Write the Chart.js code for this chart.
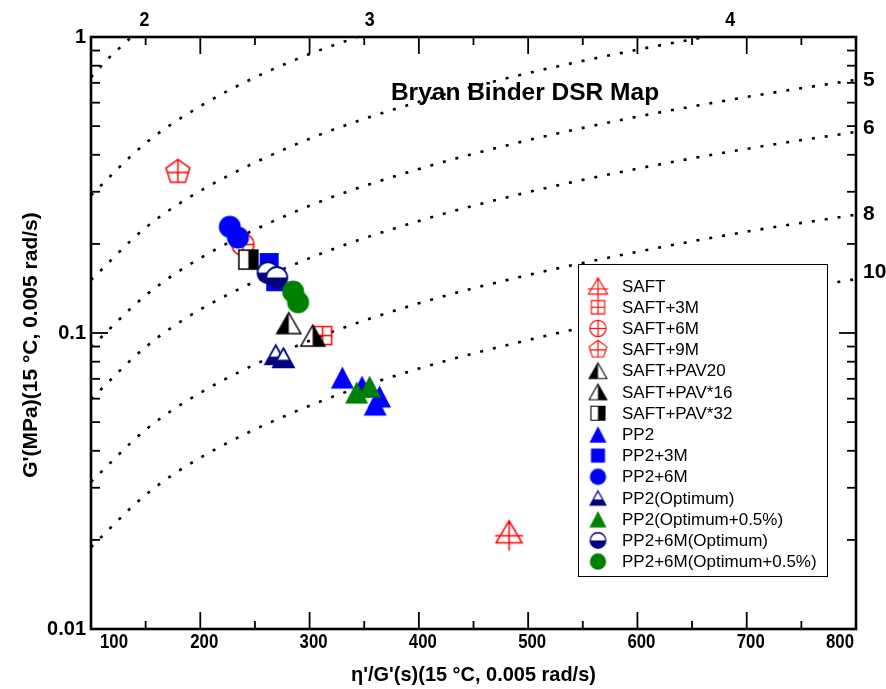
<!DOCTYPE html>
<html>
<head>
<meta charset="utf-8">
<script src="https://cdn.jsdelivr.net/npm/chart.js@4.4.1/dist/chart.umd.min.js"></script>
<style>
  html, body { margin: 0; padding: 0; background: #fff; }
  #wrap { width: 886px; height: 689px; }
</style>
</head>
<body>
<div id="wrap"><canvas id="chart" width="886" height="689"></canvas></div>
<script>
// ---- data ----
const seriesNames = ['SAFT', 'SAFT+3M', 'SAFT+6M', 'SAFT+9M', 'SAFT+PAV20', 'SAFT+PAV*16', 'SAFT+PAV*32',
    'PP2', 'PP2+3M', 'PP2+6M', 'PP2(Optimum)', 'PP2(Optimum+0.5%)', 'PP2+6M(Optimum)', 'PP2+6M(Optimum+0.5%)'];

const saftX = [482.5];            const saftY = [0.0213];
const saft3mX = [312];            const saft3mY = [0.098];
const saft6mX = [239];            const saft6mY = [0.199];
const saft9mX = [179.5];          const saft9mY = [0.350];
const pav20X = [281];             const pav20Y = [0.108];
const pav16X = [303];             const pav16Y = [0.098];
const pav32X = [244];             const pav32Y = [0.177];
const pp2X = [330, 348, 364, 360];     const pp2Y = [0.0707, 0.0659, 0.0610, 0.0573];
const pp23mX = [263, 269];        const pp23mY = [0.173, 0.149];
const pp26mX = [227, 234.5];      const pp26mY = [0.2285, 0.210];
const optX = [269, 276];          const optY = [0.0845, 0.0825];
const opt05X = [343, 355];        const opt05Y = [0.0629, 0.0659];
const pp26mOptX = [262, 270];     const pp26mOptY = [0.160, 0.154];
const pp26mOpt05X = [285, 289.5]; const pp26mOpt05Y = [0.138, 0.127];

// dotted ductility contours
const ductLabels = ['2', '3', '4', '5', '6', '8', '10'];
const d2X = [100, 115, 125, 137];                    const d2Y = [0.73, 0.84, 0.91, 1.0];
const d3X = [100, 150, 200, 250, 300, 344];          const d3Y = [0.292, 0.438, 0.584, 0.73, 0.876, 1.0];
const d4X = [100, 150, 200, 300, 400, 500, 600, 662]; const d4Y = [0.151, 0.227, 0.302, 0.453, 0.604, 0.755, 0.906, 1.0];
const curveX = [100, 150, 200, 300, 400, 500, 600, 700, 800];
const d5Y = [0.0896, 0.134, 0.179, 0.269, 0.358, 0.448, 0.538, 0.627, 0.717];
const d6Y = [0.0598, 0.0897, 0.120, 0.179, 0.239, 0.299, 0.359, 0.419, 0.478];
const d8Y = [0.0314, 0.0471, 0.0628, 0.0942, 0.126, 0.157, 0.188, 0.220, 0.251];
const d10Y = [0.0189, 0.0284, 0.0379, 0.0568, 0.0758, 0.0947, 0.114, 0.133, 0.152];

const topLabelX = [149, 355, 685];                // labels 2,3,4 along the top edge
const rightLabelY = [0.716, 0.493, 0.251, 0.160]; // labels 5,6,8,10 along the right edge

const xTicks = [100, 200, 300, 400, 500, 600, 700, 800];
const yTicks = [0.01, 0.1, 1];
const yTickLabels = ['0.01', '0.1', '1'];

const xTitle = "\u03b7'/G'(s)(15 \u00b0C, 0.005 rad/s)";
const yTitle = "G'(MPa)(15 \u00b0C, 0.005 rad/s)";
const chartTitle = 'Bryan Binder DSR Map';

// ---- markers ----
const FONT = '"Liberation Sans", Arial, sans-serif';
const RED = '#ff0000', BLUE = '#0000ff', NAVY = '#000080', GREEN = '#008000', BLACK = '#000000';

const tri = (g, w, h) => { g.beginPath(); g.moveTo(0, -h / 2); g.lineTo(w / 2, h / 2); g.lineTo(-w / 2, h / 2); g.closePath(); };
const sq = (g, s) => { g.beginPath(); g.rect(-s / 2, -s / 2, s, s); };
const circ = (g, d) => { g.beginPath(); g.arc(0, 0, d / 2, 0, Math.PI * 2); };
const pent = (g, r) => {
    g.beginPath();
    for (let i = 0; i < 5; i++) {
        const a = -Math.PI / 2 + i * 2 * Math.PI / 5;
        if (i === 0) g.moveTo(r * Math.cos(a), r * Math.sin(a));
        else g.lineTo(r * Math.cos(a), r * Math.sin(a));
    }
    g.closePath();
};
const line = (g, x1, y1, x2, y2) => { g.beginPath(); g.moveTo(x1, y1); g.lineTo(x2, y2); g.stroke(); };

const drawers = {
    saft(g) { g.strokeStyle = RED; tri(g, 26, 22); g.stroke(); line(g, 0, -11, 0, 19); line(g, -14, 4, 14, 4); },
    saft3m(g) { g.strokeStyle = RED; sq(g, 18); g.stroke(); line(g, -9, 0, 9, 0); line(g, 0, -9, 0, 9); },
    saft6m(g) { g.strokeStyle = RED; circ(g, 22); g.stroke(); line(g, -11, 0, 11, 0); line(g, 0, -11, 0, 11); },
    saft9m(g) {
        g.strokeStyle = RED; pent(g, 12.6); g.stroke();
        g.save(); pent(g, 12.6); g.clip(); line(g, 0, -13, 0, 13); line(g, -13, 0.5, 13, 0.5); g.restore();
    },
    pav20(g) { g.save(); tri(g, 24, 21); g.clip(); g.fillStyle = BLACK; g.fillRect(-13, -12, 13, 24); g.restore(); g.strokeStyle = BLACK; tri(g, 24, 21); g.stroke(); },
    pav16(g) { g.save(); tri(g, 24, 21); g.clip(); g.fillStyle = BLACK; g.fillRect(0, -12, 13, 24); g.restore(); g.strokeStyle = BLACK; tri(g, 24, 21); g.stroke(); },
    pav32(g) { g.fillStyle = '#fff'; sq(g, 19); g.fill(); g.fillStyle = BLACK; g.fillRect(0, -9.5, 9.5, 19); g.strokeStyle = BLACK; sq(g, 19); g.stroke(); },
    pp2(g) { g.fillStyle = BLUE; tri(g, 23, 22); g.fill(); },
    pp23m(g) { g.fillStyle = BLUE; sq(g, 19); g.fill(); },
    pp26m(g) { g.fillStyle = BLUE; circ(g, 22); g.fill(); },
    opt(g) {
        g.fillStyle = '#fff'; tri(g, 21, 19); g.fill();
        g.save(); tri(g, 21, 19); g.clip(); g.fillStyle = NAVY; g.fillRect(-12, 9.5 - 7.5, 24, 8); g.restore();
        g.strokeStyle = NAVY; g.lineWidth = 1.8; tri(g, 21, 19); g.stroke();
    },
    opt05(g) { g.fillStyle = GREEN; tri(g, 23, 22); g.fill(); },
    pp26mOpt(g) {
        g.fillStyle = '#fff'; circ(g, 21); g.fill();
        g.save(); circ(g, 21); g.clip(); g.fillStyle = NAVY; g.fillRect(-11, 0, 22, 11); g.restore();
        g.strokeStyle = NAVY; g.lineWidth = 1.8; circ(g, 21); g.stroke();
    },
    pp26mOpt05(g) { g.fillStyle = GREEN; circ(g, 22); g.fill(); }
};
const markerKinds = ['saft', 'saft3m', 'saft6m', 'saft9m', 'pav20', 'pav16', 'pav32',
    'pp2', 'pp23m', 'pp26m', 'opt', 'opt05', 'pp26mOpt', 'pp26mOpt05'];

function makeMarker(kind, k) {
    const c = document.createElement('canvas');
    c.width = c.height = Math.ceil(44 * k) | 1;
    const g = c.getContext('2d');
    g.translate(c.width / 2, c.height / 2);
    g.scale(k, k);
    g.lineWidth = 1.5;
    drawers[kind](g);
    return c;
}

const seriesX = [saftX, saft3mX, saft6mX, saft9mX, pav20X, pav16X, pav32X, pp2X, pp23mX, pp26mX, optX, opt05X, pp26mOptX, pp26mOpt05X];
const seriesY = [saftY, saft3mY, saft6mY, saft9mY, pav20Y, pav16Y, pav32Y, pp2Y, pp23mY, pp26mY, optY, opt05Y, pp26mOptY, pp26mOpt05Y];
const toPts = (xs, ys) => xs.map((v, i) => ({ x: v, y: ys[i] }));

const plotMarkers = markerKinds.map(k => makeMarker(k, 1));
const legendMarkers = markerKinds.map(k => makeMarker(k, 0.74));

const curves = [[d2X, d2Y], [d3X, d3Y], [d4X, d4Y], [curveX, d5Y], [curveX, d6Y], [curveX, d8Y], [curveX, d10Y]];

const datasets = [];
curves.forEach(([xs, ys], i) => {
    datasets.push({
        label: 'D' + ductLabels[i],
        data: toPts(xs, ys),
        showLine: true,
        borderColor: BLACK,
        borderWidth: 2.6,
        borderDash: [3, 10],
        borderCapStyle: 'butt',
        cubicInterpolationMode: 'monotone',
        pointRadius: 0,
        order: 100
    });
});
seriesNames.forEach((name, i) => {
    datasets.push({
        label: name,
        data: toPts(seriesX[i], seriesY[i]),
        pointStyle: plotMarkers[i],
        pointRadius: 10,
        showLine: false,
        order: 20 - i
    });
});

// condensed bold text, like the narrow face of the original
function narrowText(ctx, text, x, y, size, align, squeeze) {
    ctx.save();
    ctx.translate(x, y);
    ctx.scale(squeeze, 1);
    ctx.font = 'bold ' + size + 'px ' + FONT;
    ctx.textAlign = align;
    ctx.fillText(text, 0, 0);
    ctx.restore();
}

// ---- frame, inward ticks, labels, legend ----
const decor = {
    id: 'decor',
    afterDraw(chart) {
        const { ctx, chartArea: a, scales: { x, y } } = chart;
        ctx.save();
        ctx.strokeStyle = BLACK;
        ctx.lineWidth = 1.8;
        const tick = (x1, y1, x2, y2) => { ctx.beginPath(); ctx.moveTo(x1, y1); ctx.lineTo(x2, y2); ctx.stroke(); };
        for (let v = 150; v < 800; v += 50) {
            const px = x.getPixelForValue(v);
            const len = v % 100 === 0 ? 17 : 8;
            tick(px, a.bottom, px, a.bottom - len);
            tick(px, a.top, px, a.top + len);
        }
        for (let d = 0.01; d < 1; d *= 10) {
            for (let k = 1; k < 10; k++) {
                if (k === 1 && d === 0.01) continue;
                const py = y.getPixelForValue(k * d);
                const len = k === 1 ? 17 : 9;
                tick(a.left, py, a.left + len, py);
                tick(a.right, py, a.right - len, py);
            }
        }
        ctx.lineWidth = 2.6;
        ctx.strokeRect(a.left, a.top, a.right - a.left, a.bottom - a.top);

        ctx.fillStyle = BLACK;
        ctx.textBaseline = 'middle';
        // x tick labels (ends pulled inside the frame)
        xTicks.forEach((v, i) => {
            const px = x.getPixelForValue(v);
            if (i === 0) narrowText(ctx, String(v), px + 9, a.bottom + 13, 21, 'left', 0.8);
            else if (i === xTicks.length - 1) narrowText(ctx, String(v), px - 2, a.bottom + 13, 21, 'right', 0.8);
            else narrowText(ctx, String(v), px + 4, a.bottom + 13, 21, 'center', 0.8);
        });
        // x title
        narrowText(ctx, xTitle, (a.left + a.right) / 2, a.bottom + 46, 21, 'center', 0.95);
        // y title
        ctx.save();
        ctx.translate(31, (a.top + a.bottom) / 2 + 12);
        ctx.rotate(-Math.PI / 2);
        ctx.font = 'bold 21px ' + FONT;
        ctx.textAlign = 'center';
        ctx.fillText(yTitle, 0, 0);
        ctx.restore();

        // top ductility labels
        topLabelX.forEach((v, i) => narrowText(ctx, ductLabels[i], x.getPixelForValue(v), a.top - 17, 21, 'center', 0.85));
        // right ductility labels
        ctx.font = 'bold 21px ' + FONT;
        ctx.textAlign = 'left';
        rightLabelY.forEach((v, i) => ctx.fillText(ductLabels[i + 3], a.right + 7, y.getPixelForValue(v)));

        // title
        ctx.font = 'bold 24.5px ' + FONT;
        ctx.textAlign = 'center';
        ctx.fillText(chartTitle, 525, 93);

        // legend
        const lx = 578, ly = 264, lw = 249, lh = 312;
        ctx.fillStyle = '#fff';
        ctx.fillRect(lx, ly, lw, lh);
        ctx.lineWidth = 1;
        ctx.strokeRect(lx + 0.5, ly + 0.5, lw, lh);
        ctx.fillStyle = BLACK;
        ctx.font = '17px ' + FONT;
        ctx.textAlign = 'left';
        seriesNames.forEach((name, i) => {
            const ry = ly + 22 + i * 21.2;
            const m = legendMarkers[i];
            ctx.drawImage(m, lx + 20 - m.width / 2, ry - m.height / 2);
            ctx.fillText(name, lx + 44, ry + 1);
        });
        ctx.restore();
    }
};

new Chart(document.getElementById('chart'), {
    type: 'scatter',
    data: { datasets },
    options: {
        responsive: false,
        devicePixelRatio: 1,
        animation: false,
        events: [],
        layout: { padding: { top: 37, right: 30, left: 0, bottom: 0 } },
        plugins: { legend: { display: false }, tooltip: { enabled: false } },
        scales: {
            x: {
                type: 'linear',
                min: 100,
                max: 800,
                afterBuildTicks: (s) => { s.ticks = xTicks.map(v => ({ value: v })); },
                ticks: { display: false },
                grid: { display: false },
                border: { display: false },
                afterFit: (s) => { s.height = 60; }
            },
            y: {
                type: 'logarithmic',
                min: 0.01,
                max: 1,
                afterBuildTicks: (s) => { s.ticks = yTicks.map(v => ({ value: v })); },
                ticks: {
                    color: BLACK,
                    font: { family: FONT, size: 20, weight: 'bold' },
                    padding: 5,
                    callback: (v, i) => yTickLabels[i]
                },
                grid: { display: false, drawTicks: false },
                border: { display: false },
                afterFit: (s) => { s.width = 91; }
            }
        }
    },
    plugins: [decor]
});
</script>
</body>
</html>
